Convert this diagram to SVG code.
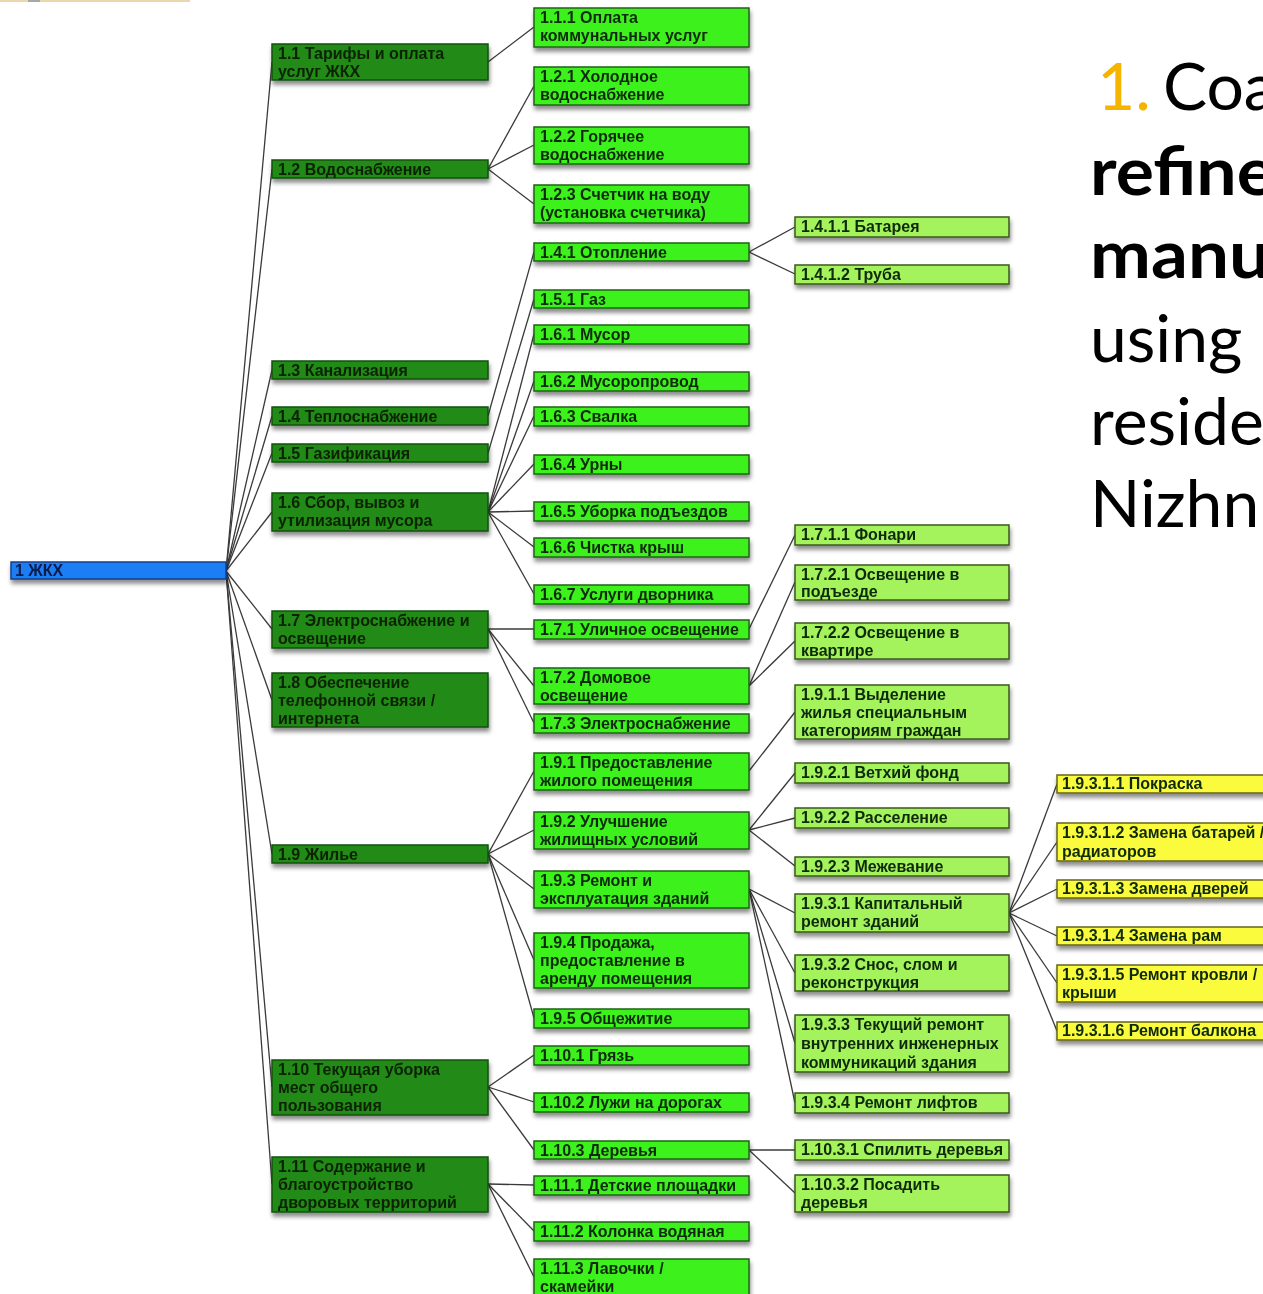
<svg xmlns="http://www.w3.org/2000/svg" width="1263" height="1294" viewBox="0 0 1263 1294">
  <defs>
    <filter id="shadow" x="-10%" y="-30%" width="120%" height="180%">
      <feDropShadow dx="1" dy="4" stdDeviation="2.2" flood-color="#000" flood-opacity="0.45"/>
    </filter>
  </defs>
  <style>
    .node { filter: url(#shadow); }
    .root rect { fill: #1f7ef5; stroke: #143f8c; stroke-width: 1.5; }
    .l1 rect { fill: #228a14; stroke: #16500d; stroke-width: 1.5; }
    .l2 rect { fill: #3cf21c; stroke: #1e6410; stroke-width: 1.5; }
    .l3 rect { fill: #a4f25c; stroke: #3a5a1c; stroke-width: 1.5; }
    .l4 rect { fill: #fbfb3c; stroke: #66641a; stroke-width: 1.5; }
    .node text { font-family: "Liberation Sans", Arial, sans-serif; font-weight: bold; font-size: 16px; fill: #0f2a0a; }
    .root text { fill: #0a1a48; }
    .l1 text { fill: #0a2206; }
    #connectors line { stroke: #3a3a3a; stroke-width: 1.3; }
    .slide { font-family: Lato, "Open Sans", sans-serif; font-size: 66px; fill: #000; }
  </style>

  <rect x="0" y="0" width="1263" height="1294" fill="#ffffff"/>
  <!-- remnant of the slide header strip -->
  <rect x="0" y="0" width="190" height="2" fill="#e9d7b0"/>
  <rect x="28" y="0" width="12" height="2" fill="#a8a8a8"/>

  <g id="connectors">
    <!-- root to level 1 -->
    <line x1="226" y1="571" x2="272" y2="62"/>
    <line x1="226" y1="571" x2="272" y2="169"/>
    <line x1="226" y1="571" x2="272" y2="370"/>
    <line x1="226" y1="571" x2="272" y2="416"/>
    <line x1="226" y1="571" x2="272" y2="453"/>
    <line x1="226" y1="571" x2="272" y2="512"/>
    <line x1="226" y1="571" x2="272" y2="629"/>
    <line x1="226" y1="571" x2="272" y2="700"/>
    <line x1="226" y1="571" x2="272" y2="854"/>
    <line x1="226" y1="571" x2="272" y2="1087"/>
    <line x1="226" y1="571" x2="272" y2="1184"/>
    <!-- level 1 to level 2 -->
    <line x1="488" y1="62" x2="534" y2="27"/>
    <line x1="488" y1="169" x2="534" y2="86"/>
    <line x1="488" y1="169" x2="534" y2="145"/>
    <line x1="488" y1="169" x2="534" y2="204"/>
    <line x1="488" y1="416" x2="534" y2="252"/>
    <line x1="488" y1="453" x2="534" y2="299"/>
    <line x1="488" y1="512" x2="534" y2="334"/>
    <line x1="488" y1="512" x2="534" y2="381"/>
    <line x1="488" y1="512" x2="534" y2="416"/>
    <line x1="488" y1="512" x2="534" y2="464"/>
    <line x1="488" y1="512" x2="534" y2="511"/>
    <line x1="488" y1="512" x2="534" y2="547"/>
    <line x1="488" y1="512" x2="534" y2="594"/>
    <line x1="488" y1="629" x2="534" y2="629"/>
    <line x1="488" y1="629" x2="534" y2="686"/>
    <line x1="488" y1="629" x2="534" y2="723"/>
    <line x1="488" y1="854" x2="534" y2="771"/>
    <line x1="488" y1="854" x2="534" y2="830"/>
    <line x1="488" y1="854" x2="534" y2="889"/>
    <line x1="488" y1="854" x2="534" y2="960"/>
    <line x1="488" y1="854" x2="534" y2="1018"/>
    <line x1="488" y1="1087" x2="534" y2="1055"/>
    <line x1="488" y1="1087" x2="534" y2="1102"/>
    <line x1="488" y1="1087" x2="534" y2="1150"/>
    <line x1="488" y1="1184" x2="534" y2="1185"/>
    <line x1="488" y1="1184" x2="534" y2="1231"/>
    <line x1="488" y1="1184" x2="534" y2="1277"/>
    <!-- level 2 to level 3 -->
    <line x1="749" y1="252" x2="795" y2="227"/>
    <line x1="749" y1="252" x2="795" y2="274"/>
    <line x1="749" y1="629" x2="795" y2="535"/>
    <line x1="749" y1="686" x2="795" y2="582"/>
    <line x1="749" y1="686" x2="795" y2="641"/>
    <line x1="749" y1="771" x2="795" y2="712"/>
    <line x1="749" y1="830" x2="795" y2="773"/>
    <line x1="749" y1="830" x2="795" y2="818"/>
    <line x1="749" y1="830" x2="795" y2="866"/>
    <line x1="749" y1="889" x2="795" y2="913"/>
    <line x1="749" y1="889" x2="795" y2="973"/>
    <line x1="749" y1="889" x2="795" y2="1043"/>
    <line x1="749" y1="889" x2="795" y2="1103"/>
    <line x1="749" y1="1150" x2="795" y2="1150"/>
    <line x1="749" y1="1150" x2="795" y2="1193"/>
    <!-- level 3 to level 4 -->
    <line x1="1009" y1="913" x2="1057" y2="784"/>
    <line x1="1009" y1="913" x2="1057" y2="842"/>
    <line x1="1009" y1="913" x2="1057" y2="889"/>
    <line x1="1009" y1="913" x2="1057" y2="936"/>
    <line x1="1009" y1="913" x2="1057" y2="983"/>
    <line x1="1009" y1="913" x2="1057" y2="1031"/>
  </g>

  <!-- root -->
  <g id="n1" class="node root"><rect x="11" y="562" width="215" height="17"/><text x="15" y="576">1 ЖКХ</text></g>

  <!-- level 1 -->
  <g id="n1_1" class="node l1"><rect x="272" y="44" width="216" height="36"/><text x="278" y="59">1.1 Тарифы и оплата</text><text x="278" y="77">услуг ЖКХ</text></g>
  <g id="n1_2" class="node l1"><rect x="272" y="160" width="216" height="18"/><text x="278" y="175">1.2 Водоснабжение</text></g>
  <g id="n1_3" class="node l1"><rect x="272" y="361" width="216" height="18"/><text x="278" y="376">1.3 Канализация</text></g>
  <g id="n1_4" class="node l1"><rect x="272" y="407" width="216" height="18"/><text x="278" y="422">1.4 Теплоснабжение</text></g>
  <g id="n1_5" class="node l1"><rect x="272" y="444" width="216" height="18"/><text x="278" y="459">1.5 Газификация</text></g>
  <g id="n1_6" class="node l1"><rect x="272" y="493" width="216" height="38"/><text x="278" y="508">1.6 Сбор, вывоз и</text><text x="278" y="526">утилизация мусора</text></g>
  <g id="n1_7" class="node l1"><rect x="272" y="611" width="216" height="37"/><text x="278" y="626">1.7 Электроснабжение и</text><text x="278" y="644">освещение</text></g>
  <g id="n1_8" class="node l1"><rect x="272" y="673" width="216" height="54"/><text x="278" y="688">1.8 Обеспечение</text><text x="278" y="706">телефонной связи /</text><text x="278" y="724">интернета</text></g>
  <g id="n1_9" class="node l1"><rect x="272" y="845" width="216" height="18"/><text x="278" y="860">1.9 Жилье</text></g>
  <g id="n1_10" class="node l1"><rect x="272" y="1060" width="216" height="55"/><text x="278" y="1075">1.10 Текущая уборка</text><text x="278" y="1093">мест общего</text><text x="278" y="1111">пользования</text></g>
  <g id="n1_11" class="node l1"><rect x="272" y="1157" width="216" height="55"/><text x="278" y="1172">1.11 Содержание и</text><text x="278" y="1190">благоустройство</text><text x="278" y="1208">дворовых территорий</text></g>

  <!-- level 2 -->
  <g id="n1_1_1" class="node l2"><rect x="534" y="8" width="215" height="39"/><text x="540" y="23">1.1.1 Оплата</text><text x="540" y="41">коммунальных услуг</text></g>
  <g id="n1_2_1" class="node l2"><rect x="534" y="67" width="215" height="38"/><text x="540" y="82">1.2.1 Холодное</text><text x="540" y="100">водоснабжение</text></g>
  <g id="n1_2_2" class="node l2"><rect x="534" y="127" width="215" height="37"/><text x="540" y="142">1.2.2 Горячее</text><text x="540" y="160">водоснабжение</text></g>
  <g id="n1_2_3" class="node l2"><rect x="534" y="185" width="215" height="38"/><text x="540" y="200">1.2.3 Счетчик на воду</text><text x="540" y="218">(установка счетчика)</text></g>
  <g id="n1_4_1" class="node l2"><rect x="534" y="243" width="215" height="18"/><text x="540" y="258">1.4.1 Отопление</text></g>
  <g id="n1_5_1" class="node l2"><rect x="534" y="290" width="215" height="18"/><text x="540" y="305">1.5.1 Газ</text></g>
  <g id="n1_6_1" class="node l2"><rect x="534" y="325" width="215" height="19"/><text x="540" y="340">1.6.1 Мусор</text></g>
  <g id="n1_6_2" class="node l2"><rect x="534" y="372" width="215" height="19"/><text x="540" y="387">1.6.2 Мусоропровод</text></g>
  <g id="n1_6_3" class="node l2"><rect x="534" y="407" width="215" height="19"/><text x="540" y="422">1.6.3 Свалка</text></g>
  <g id="n1_6_4" class="node l2"><rect x="534" y="455" width="215" height="19"/><text x="540" y="470">1.6.4 Урны</text></g>
  <g id="n1_6_5" class="node l2"><rect x="534" y="502" width="215" height="19"/><text x="540" y="517">1.6.5 Уборка подъездов</text></g>
  <g id="n1_6_6" class="node l2"><rect x="534" y="538" width="215" height="19"/><text x="540" y="553">1.6.6 Чистка крыш</text></g>
  <g id="n1_6_7" class="node l2"><rect x="534" y="585" width="215" height="19"/><text x="540" y="600">1.6.7 Услуги дворника</text></g>
  <g id="n1_7_1" class="node l2"><rect x="534" y="620" width="215" height="19"/><text x="540" y="635">1.7.1 Уличное освещение</text></g>
  <g id="n1_7_2" class="node l2"><rect x="534" y="668" width="215" height="36"/><text x="540" y="683">1.7.2 Домовое</text><text x="540" y="701">освещение</text></g>
  <g id="n1_7_3" class="node l2"><rect x="534" y="714" width="215" height="19"/><text x="540" y="729">1.7.3 Электроснабжение</text></g>
  <g id="n1_9_1" class="node l2"><rect x="534" y="753" width="215" height="37"/><text x="540" y="768">1.9.1 Предоставление</text><text x="540" y="786">жилого помещения</text></g>
  <g id="n1_9_2" class="node l2"><rect x="534" y="812" width="215" height="37"/><text x="540" y="827">1.9.2 Улучшение</text><text x="540" y="845">жилищных условий</text></g>
  <g id="n1_9_3" class="node l2"><rect x="534" y="871" width="215" height="37"/><text x="540" y="886">1.9.3 Ремонт и</text><text x="540" y="904">эксплуатация зданий</text></g>
  <g id="n1_9_4" class="node l2"><rect x="534" y="933" width="215" height="55"/><text x="540" y="948">1.9.4 Продажа,</text><text x="540" y="966">предоставление в</text><text x="540" y="984">аренду помещения</text></g>
  <g id="n1_9_5" class="node l2"><rect x="534" y="1009" width="215" height="19"/><text x="540" y="1024">1.9.5 Общежитие</text></g>
  <g id="n1_10_1" class="node l2"><rect x="534" y="1046" width="215" height="19"/><text x="540" y="1061">1.10.1 Грязь</text></g>
  <g id="n1_10_2" class="node l2"><rect x="534" y="1093" width="215" height="19"/><text x="540" y="1108">1.10.2 Лужи на дорогах</text></g>
  <g id="n1_10_3" class="node l2"><rect x="534" y="1141" width="215" height="18"/><text x="540" y="1156">1.10.3 Деревья</text></g>
  <g id="n1_11_1" class="node l2"><rect x="534" y="1176" width="215" height="19"/><text x="540" y="1191">1.11.1 Детские площадки</text></g>
  <g id="n1_11_2" class="node l2"><rect x="534" y="1222" width="215" height="19"/><text x="540" y="1237">1.11.2 Колонка водяная</text></g>
  <g id="n1_11_3" class="node l2"><rect x="534" y="1259" width="215" height="37"/><text x="540" y="1274">1.11.3 Лавочки /</text><text x="540" y="1292">скамейки</text></g>

  <!-- level 3 -->
  <g id="n1_4_1_1" class="node l3"><rect x="795" y="217" width="214" height="20"/><text x="801" y="232">1.4.1.1 Батарея</text></g>
  <g id="n1_4_1_2" class="node l3"><rect x="795" y="265" width="214" height="19"/><text x="801" y="280">1.4.1.2 Труба</text></g>
  <g id="n1_7_1_1" class="node l3"><rect x="795" y="525" width="214" height="20"/><text x="801" y="540">1.7.1.1 Фонари</text></g>
  <g id="n1_7_2_1" class="node l3"><rect x="795" y="565" width="214" height="35"/><text x="801" y="580">1.7.2.1 Освещение в</text><text x="801" y="597">подъезде</text></g>
  <g id="n1_7_2_2" class="node l3"><rect x="795" y="623" width="214" height="36"/><text x="801" y="638">1.7.2.2 Освещение в</text><text x="801" y="656">квартире</text></g>
  <g id="n1_9_1_1" class="node l3"><rect x="795" y="685" width="214" height="54"/><text x="801" y="700">1.9.1.1 Выделение</text><text x="801" y="718">жилья специальным</text><text x="801" y="736">категориям граждан</text></g>
  <g id="n1_9_2_1" class="node l3"><rect x="795" y="763" width="214" height="20"/><text x="801" y="778">1.9.2.1 Ветхий фонд</text></g>
  <g id="n1_9_2_2" class="node l3"><rect x="795" y="808" width="214" height="20"/><text x="801" y="823">1.9.2.2 Расселение</text></g>
  <g id="n1_9_2_3" class="node l3"><rect x="795" y="857" width="214" height="19"/><text x="801" y="872">1.9.2.3 Межевание</text></g>
  <g id="n1_9_3_1" class="node l3"><rect x="795" y="894" width="214" height="38"/><text x="801" y="909">1.9.3.1 Капитальный</text><text x="801" y="927">ремонт зданий</text></g>
  <g id="n1_9_3_2" class="node l3"><rect x="795" y="955" width="214" height="36"/><text x="801" y="970">1.9.3.2 Снос, слом и</text><text x="801" y="988">реконструкция</text></g>
  <g id="n1_9_3_3" class="node l3"><rect x="795" y="1015" width="214" height="57"/><text x="801" y="1030">1.9.3.3 Текущий ремонт</text><text x="801" y="1049">внутренних инженерных</text><text x="801" y="1068">коммуникаций здания</text></g>
  <g id="n1_9_3_4" class="node l3"><rect x="795" y="1093" width="214" height="20"/><text x="801" y="1108">1.9.3.4 Ремонт лифтов</text></g>
  <g id="n1_10_3_1" class="node l3"><rect x="795" y="1140" width="214" height="20"/><text x="801" y="1155">1.10.3.1 Спилить деревья</text></g>
  <g id="n1_10_3_2" class="node l3"><rect x="795" y="1175" width="214" height="37"/><text x="801" y="1190">1.10.3.2 Посадить</text><text x="801" y="1208">деревья</text></g>

  <!-- level 4 -->
  <g id="n1_9_3_1_1" class="node l4"><rect x="1057" y="775" width="230" height="18"/><text x="1062" y="789">1.9.3.1.1 Покраска</text></g>
  <g id="n1_9_3_1_2" class="node l4"><rect x="1057" y="823" width="230" height="38"/><text x="1062" y="838">1.9.3.1.2 Замена батарей /</text><text x="1062" y="857">радиаторов</text></g>
  <g id="n1_9_3_1_3" class="node l4"><rect x="1057" y="880" width="230" height="18"/><text x="1062" y="894">1.9.3.1.3 Замена дверей</text></g>
  <g id="n1_9_3_1_4" class="node l4"><rect x="1057" y="927" width="230" height="18"/><text x="1062" y="941">1.9.3.1.4 Замена рам</text></g>
  <g id="n1_9_3_1_5" class="node l4"><rect x="1057" y="965" width="230" height="37"/><text x="1062" y="980">1.9.3.1.5 Ремонт кровли /</text><text x="1062" y="998">крыши</text></g>
  <g id="n1_9_3_1_6" class="node l4"><rect x="1057" y="1022" width="230" height="18"/><text x="1062" y="1036">1.9.3.1.6 Ремонт балкона</text></g>

  <!-- slide caption on the right, running past the page edge -->
  <g id="caption" class="slide">
    <text x="1097" y="110"><tspan fill="#f5b400">1.</tspan><tspan x="1163">Coa</tspan></text>
    <text x="1090" y="195" font-weight="bold" textLength="185" lengthAdjust="spacingAndGlyphs">refine</text>
    <text x="1090" y="278" font-weight="bold" textLength="180" lengthAdjust="spacingAndGlyphs">manu</text>
    <text x="1090" y="362">using</text>
    <text x="1090" y="445">reside</text>
    <text x="1090" y="527">Nizhn</text>
  </g>
</svg>
